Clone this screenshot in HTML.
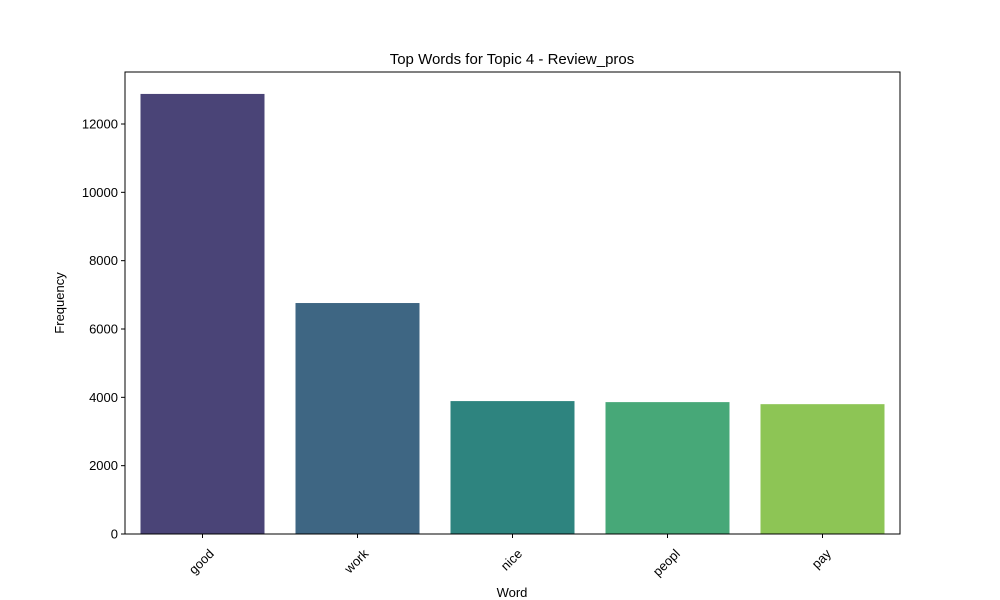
<!DOCTYPE html>
<html><head><meta charset="utf-8"><style>
html,body{margin:0;padding:0;background:#fff;}
svg{display:block;font-family:"Liberation Sans","DejaVu Sans",sans-serif;}
</style></head><body>
<svg id="chart" width="1000" height="600" viewBox="0 0 1000 600">
<rect width="1000" height="600" fill="#fff"/>
<text x="512" y="64" text-anchor="middle" font-size="15">Top Words for Topic 4 - Review_pros</text>
<g id="bars"></g>
<g id="yaxis"></g>
<g id="xaxis"></g>
<rect x="125" y="72" width="775" height="462" fill="none" stroke="#000" stroke-width="1"/>
<text x="512" y="597" text-anchor="middle" font-size="13">Word</text>
<text transform="translate(64,303) rotate(-90)" text-anchor="middle" font-size="13">Frequency</text>
</svg>
<script>
const categories = ["good","work","nice","peopl","pay"];
const values = [12880, 6760, 3890, 3860, 3800];
const colors = ["#4a4477","#3e6683","#2e847f","#47a878","#8dc555"];
const yTicks = [0,2000,4000,6000,8000,10000,12000];

const NS="http://www.w3.org/2000/svg";
const L=125,R=900,T=72,B=534;
const y=v=>B-v*(410/12000);
const band=(R-L)/categories.length;
const x=i=>L+band*i;
const mk=(t,a,p)=>{const e=document.createElementNS(NS,t);for(const k in a)e.setAttribute(k,a[k]);p.appendChild(e);return e;};
const gb=document.getElementById('bars'),gy=document.getElementById('yaxis'),gx=document.getElementById('xaxis');
categories.forEach((c,i)=>{
  const r=mk('rect',{x:x(i)+band*0.1,y:y(values[i]),width:band*0.8,height:B-y(values[i]),fill:colors[i]},gb);
  
  
  const cx=x(i)+band/2;
  const tk=mk('line',{x1:cx,x2:cx,y1:B,y2:B+4,stroke:'#000'},gx);
  
  
  const t=mk('text',{'text-anchor':'middle','font-size':'13'},gx);
  t.textContent=c;
  
  
  const w=t.getComputedTextLength ? t.getComputedTextLength() : c.length*7;
  const h=(w+10)*0.7071;
  t.setAttribute('transform',`translate(${cx+2},${B+14+h/2+3}) rotate(-45)`);
});
yTicks.forEach(v=>{
  const tk=mk('line',{x1:L-4,x2:L,y1:y(v),y2:y(v),stroke:'#000'},gy);
  
  
  const t=mk('text',{x:L-7,y:y(v)+4.5,'text-anchor':'end','font-size':'13'},gy);
  t.textContent=v;
  
  
});
</script>
</body></html>
